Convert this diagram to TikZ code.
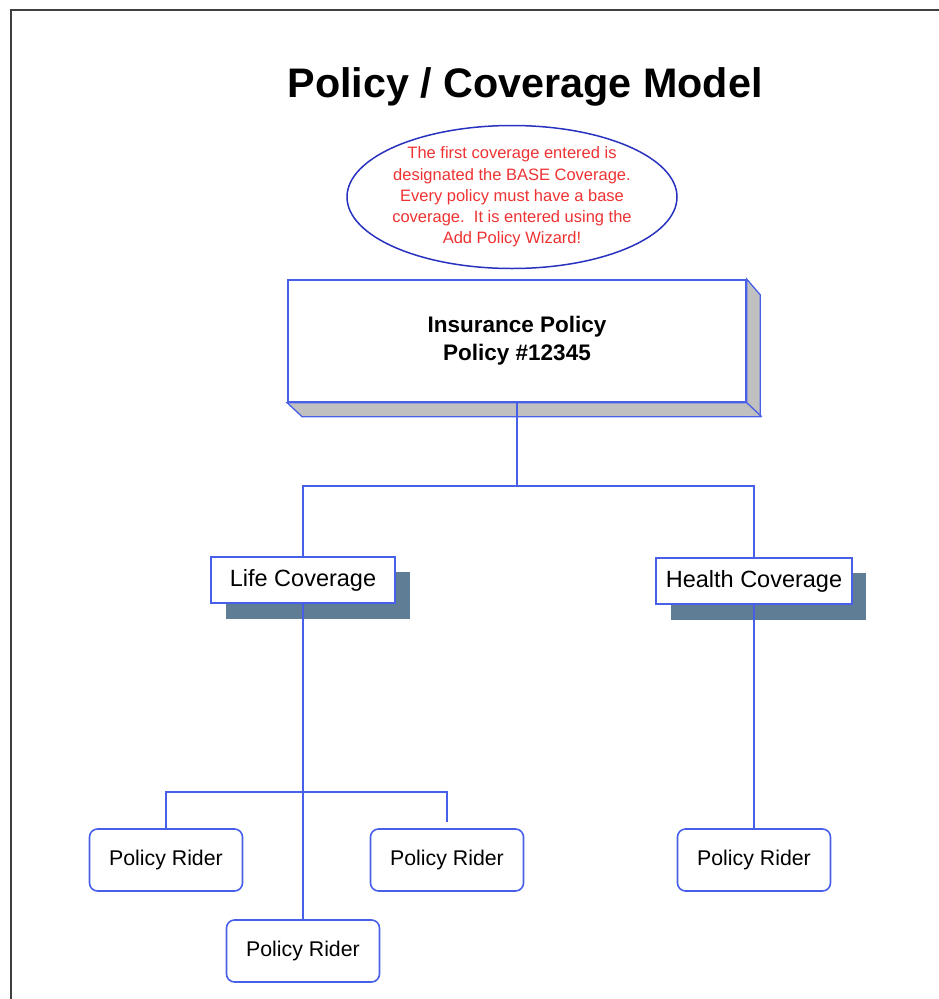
\documentclass[tikz,border=0pt]{standalone}
\usepackage{fontspec}
\setmainfont{Liberation Sans}
\usetikzlibrary{shapes.geometric}
\definecolor{lblue}{RGB}{72,96,232}
\definecolor{eblue}{RGB}{40,50,190}
\definecolor{nred}{RGB}{238,50,50}
\definecolor{side}{RGB}{192,192,192}
\definecolor{shad}{RGB}{95,126,149}
\tikzset{
  conn/.style={draw=lblue, line width=1.6pt},
  covbox/.style={draw=lblue, line width=1.6pt, fill=white, minimum height=46pt, inner sep=0pt, font=\fontsize{23.5}{28}\selectfont},
  rider/.style={draw=lblue, line width=1.6pt, fill=white, rounded corners=8pt, minimum width=153pt, minimum height=62pt, inner sep=0pt, font=\fontsize{21.3}{25}\selectfont},
}
\begin{document}
\begin{tikzpicture}[x=1pt,y=-1pt]
\useasboundingbox (0,0) rectangle (939,999);
% frame
\draw[line width=1.2pt, black!75] (11,999) -- (11,10) -- (939,10);
% title
\node (title) at (525,87) {\fontsize{41.3}{49}\selectfont\bfseries Policy / Coverage Model};
% note ellipse
\node[ellipse, draw=eblue, line width=1.5pt, minimum width=330pt, minimum height=143pt, inner sep=-8pt,
      text=nred, align=center, font=\fontsize{16.5}{21.2}\selectfont] (note) at (512,197)
  {The first coverage entered is\\designated the BASE Coverage.\\Every policy must have a base\\coverage.\ \ It is entered using the\\Add Policy Wizard!};
% policy box (3D)
\node[draw=lblue, line width=1.6pt, fill=white, minimum width=458pt, minimum height=122pt, inner sep=0pt,
      align=center, font=\fontsize{22.5}{28}\selectfont\bfseries] (policy) at (517,341)
  {Insurance Policy\\Policy \#12345};
\draw[draw=lblue, line width=1.3pt, fill=side]
  (policy.south west) -- ++(15,14) -- ++(458,0) -- ++(0,-122) -- (policy.north east) -- (policy.south east) -- cycle;
\draw[draw=lblue, line width=1.3pt] (policy.south east) -- ++(15,14);
% coverage boxes with shadows
\fill[shad] (226,572) rectangle (410,619);
\node[covbox, minimum width=184pt] (life) at (303,580) {Life Coverage};
\fill[shad] (671,573) rectangle (866,620);
\node[covbox, minimum width=196pt] (health) at (754,581) {Health Coverage};
% riders
\node[rider] (r1) at (166,860) {Policy Rider};
\node[rider] (r2) at (447,860) {Policy Rider};
\node[rider] (r3) at (303,951) {Policy Rider};
\node[rider] (r4) at (754,860) {Policy Rider};
% connectors
\coordinate (jtop) at (517,486);
\draw[conn] (policy.south) -- (jtop);
\draw[conn] (life.north) |- (jtop) -| (health.north);
\coordinate (jlife) at (303,792);
\coordinate (r2end) at (447,822);
\draw[conn] (life.south) -- (r3.north);
\draw[conn] (r1.north) |- (jlife) -| (r2end);
\draw[conn] (health.south) -- (r4.north);
\end{tikzpicture}
\end{document}
